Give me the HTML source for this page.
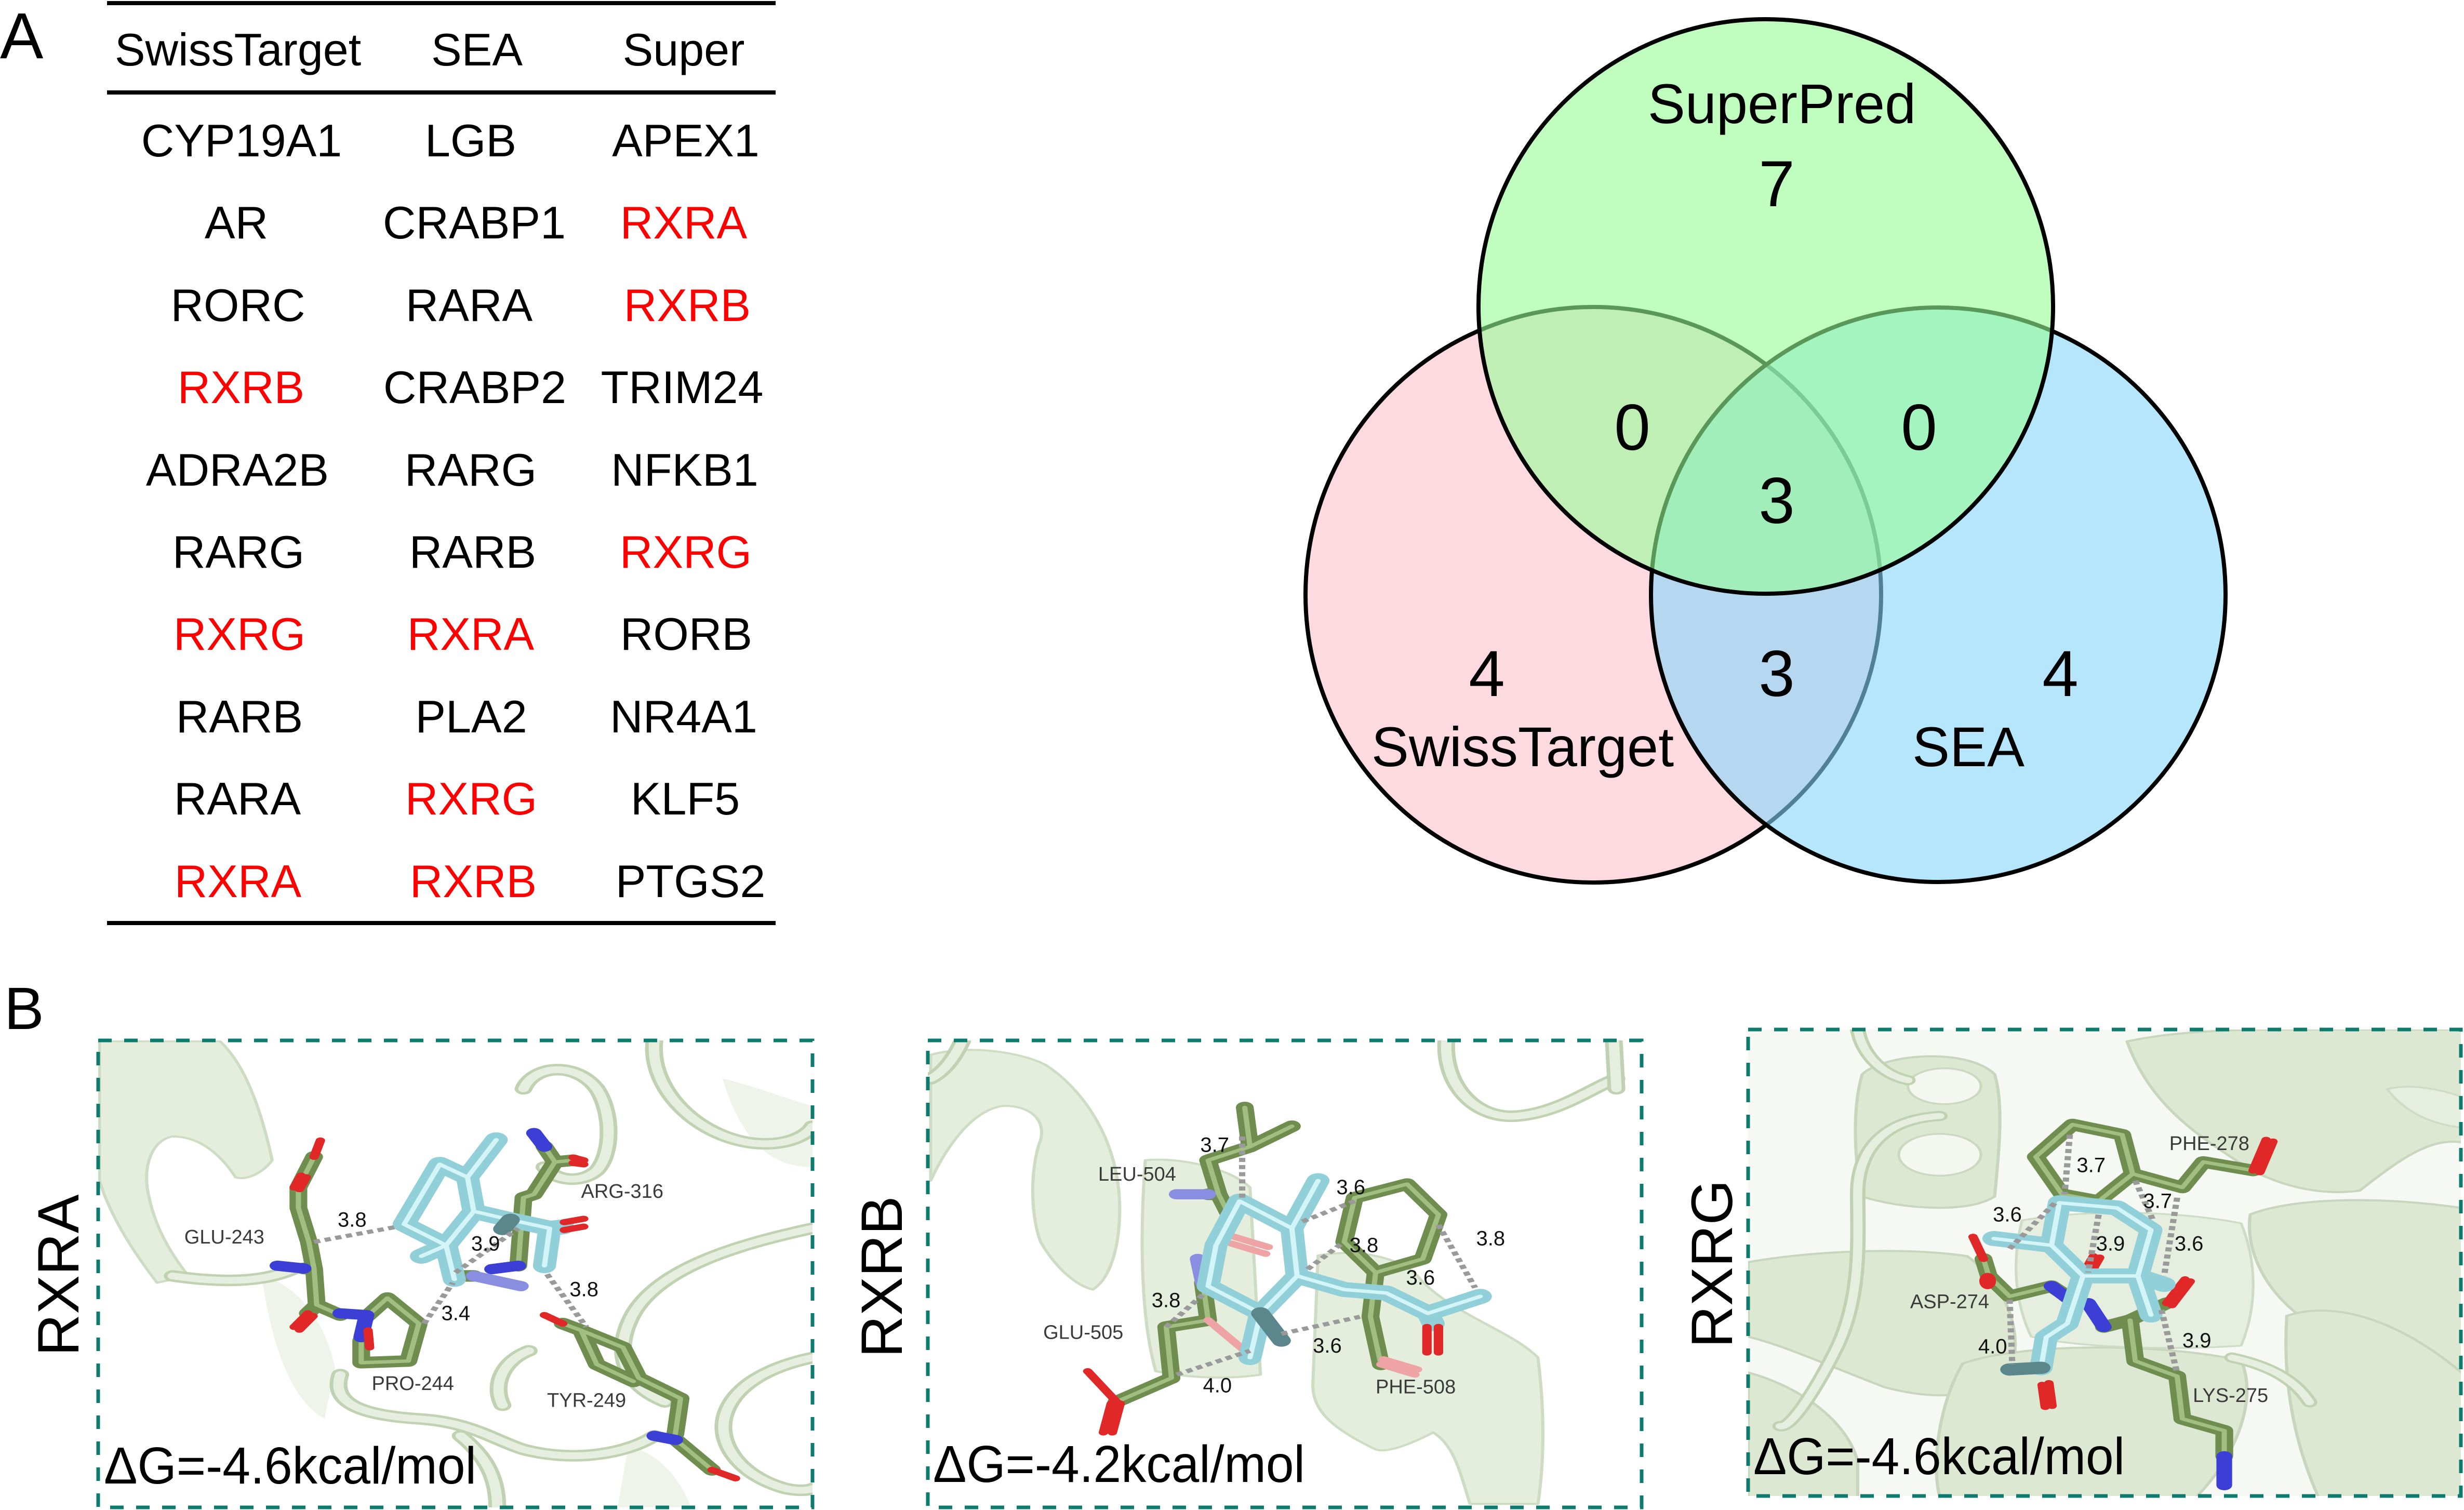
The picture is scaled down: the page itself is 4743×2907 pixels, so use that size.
<!DOCTYPE html>
<html><head><meta charset="utf-8"><style>
html,body{margin:0;padding:0;background:#fff}
svg{display:block}
.t{font-family:"Liberation Sans",Arial,sans-serif}
path{fill:none;stroke-linecap:round;stroke-linejoin:round}
.fl{fill:#e5eedd;stroke:#cddcc3;stroke-width:6px}
.fl2{fill:#eef4ea;stroke:none}
.hx{fill:#dde8d3;stroke:#c7d6bc;stroke-width:7px}
.hx2{fill:#e6eee0;stroke:#cfdcc5;stroke-width:6px}
.to{stroke:#c0d2b2;stroke-width:34px}
.ti{stroke:#e6eedf;stroke-width:20px}
.gO{stroke:#6e8d4f;stroke-width:34px}
.gH{stroke:#a0bf80;stroke-width:10px}
.cO{stroke:#92d0d9;stroke-width:44px}
.cH{stroke:#d3f5f8;stroke-width:10px}
.ox{stroke:#e02828;stroke-width:18px}
.oxf{stroke:#eea4a4;stroke-width:18px}
.ni{stroke:#3b3fd6;stroke-width:30px}
.nif{stroke:#8a8ee0;stroke-width:30px}
.dk{stroke:#5b868c;stroke-width:36px}
.ds{stroke:#9a9a9a;stroke-width:12px;stroke-dasharray:12 9;stroke-linecap:butt}
.lab{font-family:"Liberation Sans","DejaVu Sans",sans-serif;font-size:38px;fill:#3a3a3a}
.num{font-family:"Liberation Sans","DejaVu Sans",sans-serif;font-size:40px;fill:#111}
.box{fill:none;stroke:#0e7b6f;stroke-width:7;stroke-dasharray:26 24}
</style></head><body>
<svg width="4743" height="2907" viewBox="0 0 4743 2907" xmlns="http://www.w3.org/2000/svg">
<rect x="0" y="0" width="4743" height="2907" fill="#fff"/>
<defs>
<clipPath id="cp1"><rect x="189" y="2003" width="1375" height="899"/></clipPath>
<clipPath id="cp2"><rect x="1786" y="2003" width="1374" height="899"/></clipPath>
<clipPath id="cp3"><rect x="3365" y="1982" width="1372" height="898"/></clipPath>
</defs>

<!-- ===== Panel A: table ===== -->
<text class="t" x="0" y="112" font-size="125">A</text>
<line x1="206" y1="6" x2="1493" y2="6" stroke="#000" stroke-width="8"/>
<line x1="206" y1="178" x2="1493" y2="178" stroke="#000" stroke-width="8"/>
<line x1="206" y1="1777" x2="1493" y2="1777" stroke="#000" stroke-width="8"/>
<g class="t" font-size="88" text-anchor="middle">
<text x="458" y="126">SwissTarget</text><text x="918" y="126">SEA</text><text x="1316" y="126">Super</text>
<text x="465" y="301">CYP19A1</text><text x="906" y="301">LGB</text><text x="1320" y="301">APEX1</text>
<text x="455" y="459">AR</text><text x="913" y="459">CRABP1</text><text x="1316" y="459" fill="#f00">RXRA</text>
<text x="458" y="618">RORC</text><text x="903" y="618">RARA</text><text x="1323" y="618" fill="#f00">RXRB</text>
<text x="464" y="776" fill="#f00">RXRB</text><text x="914" y="776">CRABP2</text><text x="1313" y="776">TRIM24</text>
<text x="457" y="935">ADRA2B</text><text x="906" y="935">RARG</text><text x="1318" y="935">NFKB1</text>
<text x="459" y="1093">RARG</text><text x="910" y="1093">RARB</text><text x="1320" y="1093" fill="#f00">RXRG</text>
<text x="461" y="1251" fill="#f00">RXRG</text><text x="906" y="1251" fill="#f00">RXRA</text><text x="1321" y="1251">RORB</text>
<text x="461" y="1410">RARB</text><text x="907" y="1410">PLA2</text><text x="1316" y="1410">NR4A1</text>
<text x="457" y="1568">RARA</text><text x="907" y="1568" fill="#f00">RXRG</text><text x="1319" y="1568">KLF5</text>
<text x="458" y="1727" fill="#f00">RXRA</text><text x="911" y="1727" fill="#f00">RXRB</text><text x="1329" y="1727">PTGS2</text>
</g>

<!-- ===== Venn ===== -->
<circle cx="3067" cy="1145" r="554" fill="#fddae0" stroke="#000" stroke-width="8"/>
<circle cx="3731" cy="1145" r="553" fill="rgb(133,213,250)" fill-opacity="0.6" stroke="#000" stroke-width="8"/>
<circle cx="3399" cy="590" r="553" fill="rgb(150,253,150)" fill-opacity="0.6" stroke="#000" stroke-width="8"/>
<g class="t" text-anchor="middle">
<text x="3430" y="237" font-size="108">SuperPred</text>
<text x="3420" y="397" font-size="125">7</text>
<text x="3142" y="866" font-size="125">0</text>
<text x="3694" y="866" font-size="125">0</text>
<text x="3420" y="1007" font-size="125">3</text>
<text x="3420" y="1340" font-size="125">3</text>
<text x="2862" y="1340" font-size="125">4</text>
<text x="3966" y="1340" font-size="125">4</text>
<text x="2931" y="1475" font-size="108">SwissTarget</text>
<text x="3789" y="1475" font-size="108">SEA</text>
</g>

<!-- ===== Panel B labels ===== -->
<text class="t" x="8" y="1981" font-size="115">B</text>
<text class="t" font-size="112" text-anchor="middle" transform="translate(151,2455) rotate(-90)">RXRA</text>
<text class="t" font-size="112" text-anchor="middle" transform="translate(1736,2458) rotate(-90)">RXRB</text>
<text class="t" font-size="112" text-anchor="middle" transform="translate(3334,2433) rotate(-90)">RXRG</text>

<!-- ===== Panel 1 RXRA ===== -->
<g clip-path="url(#cp1)">
<g transform="translate(0,1880) scale(1.0077,0.655)">
<path class="fl" d="M190,190 L420,190 C470,260 500,400 520,540 C500,580 470,600 450,590 C420,520 380,470 330,470 C290,480 270,560 285,650 C300,760 340,840 360,880 L300,900 C250,800 210,700 190,600 Z"/>
<path class="fl2" d="M500,880 C560,900 620,1000 640,1150 L620,1300 C560,1250 520,1100 500,880 Z"/>
<path class="fl2" d="M1200,1380 C1260,1400 1300,1480 1320,1560 L1180,1560 Z"/>
<path class="fl2" d="M1380,300 C1440,320 1500,360 1552,380 L1552,560 C1480,560 1420,500 1380,300 Z"/>
<path class="to" d="M1000,330 C1020,260 1100,250 1140,330 C1170,400 1170,520 1140,570 C1110,610 1060,600 1040,560"/>
<path class="ti" d="M1000,330 C1020,260 1100,250 1140,330 C1170,400 1170,520 1140,570 C1110,610 1060,600 1040,560"/>
<path class="to" d="M1250,190 C1240,330 1330,470 1440,490 C1510,500 1545,460 1552,440"/>
<path class="ti" d="M1250,190 C1240,330 1330,470 1440,490 C1510,500 1545,460 1552,440"/>
<path class="to" d="M330,880 C420,900 500,900 560,860"/>
<path class="ti" d="M330,880 C420,900 500,900 560,860"/>
<path class="to" d="M650,1170 C630,1260 700,1290 800,1300 C900,1310 940,1360 1000,1390 C1100,1430 1200,1400 1250,1350"/>
<path class="ti" d="M650,1170 C630,1260 700,1290 800,1300 C900,1310 940,1360 1000,1390 C1100,1430 1200,1400 1250,1350"/>
<path class="to" d="M1552,740 C1400,790 1260,860 1210,990 C1170,1100 1190,1200 1270,1250"/>
<path class="ti" d="M1552,740 C1400,790 1260,860 1210,990 C1170,1100 1190,1200 1270,1250"/>
<path class="to" d="M1552,1120 C1460,1150 1400,1210 1385,1290 C1370,1370 1410,1460 1490,1500 C1520,1515 1545,1510 1552,1505"/>
<path class="ti" d="M1552,1120 C1460,1150 1400,1210 1385,1290 C1370,1370 1410,1460 1490,1500 C1520,1515 1545,1510 1552,1505"/>
<path class="to" d="M880,1350 C920,1400 950,1460 950,1560"/>
<path class="ti" d="M880,1350 C920,1400 950,1460 950,1560"/>
<path class="to" d="M1010,1100 C960,1130 940,1200 960,1260"/>
<path class="ti" d="M1010,1100 C960,1130 940,1200 960,1260"/>
<g class="gO">
<path d="M600,530 L590,560 L570,620 L570,680 L590,780 L600,860 L605,965 L650,995"/>
<path d="M580,858 L600,860"/><path d="M605,965 L588,990"/>
<path d="M700,1000 L740,945 L800,1020 L780,1130 L690,1135 L690,1070"/>
<path d="M1040,500 L1060,545 L1095,540"/>
<path d="M1060,545 L1020,640 L1000,650 L990,850"/>
<path d="M880,880 L905,880"/>
<path d="M1075,1020 L1110,1040 L1190,1090 L1220,1180 L1300,1240 L1290,1345"/>
<path d="M1110,1040 L1140,1140 L1210,1190"/>
<path d="M1290,1360 L1360,1450"/>
</g>
<g class="gH">
<path d="M600,530 L590,560 L570,620 L570,680 L590,780 L600,860 L605,965 L650,995"/>
<path d="M700,1000 L740,945 L800,1020 L780,1130 L690,1135 L690,1070"/>
<path d="M1040,500 L1060,545 L1095,540"/>
<path d="M1060,545 L1020,640 L1000,650 L990,850"/>
<path d="M1075,1020 L1110,1040 L1190,1090 L1220,1180 L1300,1240 L1290,1345"/>
<path d="M1110,1040 L1140,1140 L1210,1190"/>
<path d="M1290,1360 L1360,1450"/>
</g>
<path class="ox" d="M612,482 L600,530"/>
<path class="ox" d="M575,585 L562,620"/><path class="ox" d="M585,590 L572,625"/>
<path class="ni" d="M530,850 L580,858"/>
<path class="ox" d="M588,990 L562,1030"/><path class="ox" d="M598,998 L572,1038"/>
<path class="ni" d="M650,990 L700,995 L690,1060"/>
<path class="ox" d="M703,1040 L706,1090"/>
<path class="ni" d="M1020,460 L1040,500"/>
<path class="ox" d="M1095,532 L1115,540"/><path class="ox" d="M1095,548 L1115,552"/>
<path class="ni" d="M990,850 L940,860"/>
<path class="nif" d="M905,880 L995,910"/>
<path class="ox" d="M1040,995 L1075,1020"/>
<path class="ni" d="M1250,1350 L1290,1362"/>
<path class="ox" d="M1360,1450 L1405,1475"/>
<g class="cO">
<path d="M948,480 L893,590 L905,690 L852,790 L772,728 L840,552 L893,590"/>
<path d="M905,690 L975,715 L1050,740 L1040,850"/>
<path d="M1050,740 L1075,736"/>
<path d="M852,790 L805,822"/>
<path d="M852,790 L868,890"/>
</g>
<g class="cH">
<path d="M948,480 L893,590 L905,690 L852,790 L772,728 L840,552 L893,590"/>
<path d="M905,690 L975,715 L1050,740 L1040,850"/>
<path d="M852,790 L805,822"/>
<path d="M852,790 L868,890"/>
</g>
<path class="dk" d="M975,715 L960,742"/>
<path class="ox" d="M1078,722 L1115,712"/><path class="ox" d="M1078,745 L1115,735"/>
<path class="ds" d="M600,780 L760,735"/>
<path class="ds" d="M870,870 L990,740"/>
<path class="ds" d="M810,1020 L865,900"/>
<path class="ds" d="M1045,875 L1120,1030"/>
<text class="num" transform="translate(645,735) scale(0.9924,1.5267)">3.8</text>
<text class="lab" transform="translate(352,785) scale(0.9924,1.5267)">GLU-243</text>
<text class="lab" transform="translate(1110,650) scale(0.9924,1.5267)">ARG-316</text>
<text class="num" transform="translate(900,805) scale(0.9924,1.5267)">3.9</text>
<text class="num" transform="translate(843,1010) scale(0.9924,1.5267)">3.4</text>
<text class="num" transform="translate(1088,940) scale(0.9924,1.5267)">3.8</text>
<text class="lab" transform="translate(710,1215) scale(0.9924,1.5267)">PRO-244</text>
<text class="lab" transform="translate(1045,1265) scale(0.9924,1.5267)">TYR-249</text>
</g></g>
<text class="t" x="200" y="2856" font-size="100" textLength="717" lengthAdjust="spacingAndGlyphs">ΔG=-4.6kcal/mol</text>
<rect class="box" x="189" y="2003" width="1375" height="899"/>

<!-- ===== Panel 2 RXRB ===== -->
<g clip-path="url(#cp2)">
<g transform="translate(1600,1880) scale(1.0077,0.655)">
<path class="fl" d="M190,230 C260,200 360,220 410,260 C470,320 540,450 550,640 C555,760 540,880 500,920 C470,910 430,860 400,780 C380,700 380,560 400,480 C410,420 380,380 330,380 C270,390 220,500 190,600 Z"/>
<path class="fl" d="M600,540 C660,530 760,560 800,620 L820,1170 C760,1185 680,1180 620,1160 C590,1000 590,750 600,540 Z"/>
<path class="fl" d="M930,820 C1000,800 1080,820 1120,880 C1180,990 1300,1040 1350,1120 C1365,1300 1360,1450 1350,1550 L1220,1550 C1200,1450 1190,1380 1150,1340 C1100,1380 1060,1400 1040,1390 C960,1330 920,1280 920,1200 Z"/>
<path class="to" d="M1175,190 C1170,320 1230,420 1310,410 C1390,400 1450,330 1500,300"/>
<path class="ti" d="M1175,190 C1170,320 1230,420 1310,410 C1390,400 1450,330 1500,300"/>
<path class="to" d="M1495,190 L1500,330"/><path class="ti" d="M1495,190 L1500,330"/>
<path class="to" d="M250,190 C235,240 215,280 190,300"/><path class="ti" d="M250,190 C235,240 215,280 190,300"/>
<g class="gO">
<path d="M790,385 L800,500 L720,540 L740,640 L760,700"/>
<path d="M800,500 L880,440"/>
<path d="M720,640 L740,640"/>
<path d="M710,900 L720,1010 L640,1030 L650,1180 L545,1250"/>
<path d="M1000,650 L1100,610 L1160,700 L1130,830 L1040,870 L980,780 Z"/>
<path d="M1040,870 L1030,1000 L1050,1140"/>
</g>
<g class="gH">
<path d="M790,385 L800,500 L720,540 L740,640 L760,700"/>
<path d="M800,500 L880,440"/>
<path d="M710,900 L720,1010 L640,1030 L650,1180 L545,1250"/>
<path d="M1000,650 L1100,610 L1160,700 L1130,830 L1040,870 L980,780 Z"/>
<path d="M1040,870 L1030,1000 L1050,1140"/>
</g>
<path class="nif" d="M660,640 L720,640"/>
<path class="oxf" d="M770,765 L835,795"/><path class="oxf" d="M765,785 L830,815"/>
<path class="nif" d="M700,830 L710,900"/>
<path class="ox" d="M545,1250 L490,1160"/>
<path class="ox" d="M535,1255 L520,1340"/><path class="ox" d="M552,1255 L537,1340"/>
<path class="oxf" d="M720,1010 L790,1100"/>
<path class="oxf" d="M1050,1140 L1115,1170"/><path class="oxf" d="M1055,1125 L1120,1155"/>
<g class="cO">
<path d="M930,600 L880,740"/>
<path d="M780,660 L880,740 L890,880 L820,990 L720,910 L735,790 L780,660"/>
<path d="M890,880 L980,920 L1060,930 L1140,990 L1240,940"/>
<path d="M1140,990 L1150,1020"/>
<path d="M820,990 L800,1120"/>
</g>
<g class="cH">
<path d="M930,600 L880,740"/>
<path d="M780,660 L880,740 L890,880 L820,990 L720,910 L735,790 L780,660"/>
<path d="M890,880 L980,920 L1060,930 L1140,990 L1240,940"/>
<path d="M820,990 L800,1120"/>
</g>
<path class="ox" d="M1138,1030 L1138,1105"/><path class="ox" d="M1160,1030 L1160,1105"/>
<path class="dk" d="M820,990 L860,1070"/>
<path class="ds" d="M785,470 L785,650"/>
<path class="ds" d="M900,720 L1000,660"/>
<path class="ds" d="M910,860 L975,785"/>
<path class="ds" d="M1160,730 L1230,915"/>
<path class="ds" d="M640,1030 L710,935"/>
<path class="ds" d="M660,1170 L800,1100"/>
<path class="ds" d="M860,1050 L1010,1000"/>
<text class="num" transform="translate(705,515) scale(0.9924,1.5267)">3.7</text>
<text class="lab" fill="#555" transform="translate(510,600) scale(0.9924,1.5267)">LEU-504</text>
<text class="num" transform="translate(965,640) scale(0.9924,1.5267)">3.6</text>
<text class="num" transform="translate(990,810) scale(0.9924,1.5267)">3.8</text>
<text class="num" transform="translate(1232,790) scale(0.9924,1.5267)">3.8</text>
<text class="num" transform="translate(1098,905) scale(0.9924,1.5267)">3.6</text>
<text class="num" transform="translate(612,972) scale(0.9924,1.5267)">3.8</text>
<text class="lab" transform="translate(405,1065) scale(0.9924,1.5267)">GLU-505</text>
<text class="num" transform="translate(920,1105) scale(0.9924,1.5267)">3.6</text>
<text class="num" transform="translate(710,1222) scale(0.9924,1.5267)">4.0</text>
<text class="lab" fill="#555" transform="translate(1040,1225) scale(0.9924,1.5267)">PHE-508</text>
</g></g>
<text class="t" x="1796" y="2853" font-size="100" textLength="716" lengthAdjust="spacingAndGlyphs">ΔG=-4.2kcal/mol</text>
<rect class="box" x="1786" y="2003" width="1374" height="899"/>

<!-- ===== Panel 3 RXRG ===== -->
<g clip-path="url(#cp3)">
<rect x="3365" y="1982" width="1372" height="898" fill="#f6f9f3"/>
<g transform="translate(3365,1982) scale(0.8787,0.5741)">
<path class="hx" d="M830,40 C950,0 1100,0 1200,0 L1570,0 L1570,380 C1500,360 1440,420 1340,540 C1250,560 1150,520 1080,450 C980,350 880,250 830,40 Z"/>
<path class="hx" d="M1100,620 C1200,560 1400,560 1570,600 L1570,1150 C1450,1120 1300,1020 1200,950 C1120,850 1090,720 1100,620 Z"/>
<path class="hx" d="M1180,960 C1300,900 1450,1000 1570,1160 L1570,1570 L1250,1570 C1200,1400 1170,1200 1180,960 Z"/>
<path class="hx" d="M0,780 C150,740 350,730 480,760 C560,850 600,1000 580,1120 C520,1250 400,1240 300,1200 C180,1130 80,1060 0,1030 Z"/>
<path class="hx" d="M470,1120 C600,1050 900,1050 1080,1110 C1120,1250 1060,1450 980,1570 L420,1570 C400,1450 420,1250 470,1120 Z"/>
<path class="hx2" d="M600,640 C750,600 950,610 1080,650 C1120,800 1110,950 1080,1060 C900,1080 700,1060 620,1030 C580,900 580,760 600,640 Z"/>
<path class="hx" d="M0,1150 C120,1200 220,1320 240,1450 L240,1570 L0,1570 Z"/>
<path class="hx" d="M250,150 C300,80 480,60 540,150 C560,250 550,400 540,560 C480,620 330,600 250,560 C230,420 230,250 250,150 Z"/>
<ellipse cx="430" cy="190" rx="80" ry="60" fill="#f3f7f0" stroke="#cbd9c0" stroke-width="6"/>
<ellipse cx="420" cy="420" rx="90" ry="70" fill="#f3f7f0" stroke="#cbd9c0" stroke-width="6"/>
<path class="hx2" d="M1400,200 C1450,180 1520,200 1570,230 L1570,330 C1500,320 1440,280 1400,200 Z"/>
<path class="to" d="M240,0 C250,80 290,150 350,170"/><path class="ti" d="M240,0 C250,80 290,150 350,170"/>
<path class="to" d="M420,290 C300,300 240,400 240,550 C240,700 250,900 190,1080 C140,1230 90,1340 70,1330"/>
<path class="ti" d="M420,290 C300,300 240,400 240,550 C240,700 250,900 190,1080 C140,1230 90,1340 70,1330"/>
<path class="to" d="M1060,1100 C1150,1130 1200,1180 1230,1250"/><path class="ti" d="M1060,1100 C1150,1130 1200,1180 1230,1250"/>
</g>
<g transform="translate(3163,1880) scale(1.0077,0.655)">
<g class="gO">
<path d="M820,435 L915,465 L935,580 L870,660 L800,640 L750,530 Z"/>
<path d="M935,580 L1030,620 L1070,545 L1165,570"/>
<path d="M650,830 L660,880 L700,940 L780,910 L810,940"/>
<path d="M880,1030 L930,1010 L1000,960"/>
<path d="M930,1010 L940,1130 L1020,1175 L1030,1300 L1110,1335 L1110,1410"/>
</g>
<g class="gH">
<path d="M820,435 L915,465 L935,580 L870,660 L800,640 L750,530 Z"/>
<path d="M935,580 L1030,620 L1070,545 L1165,570"/>
<path d="M650,830 L660,880 L700,940 L780,910"/>
<path d="M930,1010 L940,1130 L1020,1175 L1030,1300 L1110,1335 L1110,1410"/>
</g>
<path class="ox" d="M1165,570 L1190,480"/><path class="ox" d="M1178,575 L1203,485"/>
<path class="ox" d="M630,765 L650,830"/>
<ellipse cx="658" cy="895" rx="16" ry="24" fill="#e02828"/>
<path class="ni" d="M780,910 L810,945"/>
<path class="ox" d="M845,862 L860,822"/><path class="ox" d="M857,866 L872,826"/>
<path class="ni" d="M850,960 L880,1030"/>
<path class="ox" d="M1000,960 L1035,890"/><path class="ox" d="M1010,966 L1045,896"/>
<path class="ni" d="M1110,1410 L1110,1495"/>
<g class="cO">
<path d="M795,665 L905,680 L970,745 L945,880 L840,880 L780,790 Z"/>
<path d="M780,790 L670,770"/>
<path d="M840,880 L810,1020 L770,1060 L760,1150"/>
<path d="M945,880 L970,995"/>
<path d="M945,880 L995,905"/>
</g>
<g class="cH">
<path d="M795,665 L905,680 L970,745 L945,880 L840,880 L780,790 Z"/>
<path d="M780,790 L670,770"/>
<path d="M840,880 L810,1020 L770,1060 L760,1150"/>
<path d="M945,880 L970,995"/>
</g>
<path class="dk" d="M760,1150 L700,1155"/>
<path class="ox" d="M762,1200 L768,1265"/><path class="ox" d="M775,1195 L781,1262"/>
<path class="ds" d="M815,465 L805,640"/>
<path class="ds" d="M700,800 L790,660"/>
<path class="ds" d="M870,700 L850,870"/>
<path class="ds" d="M940,600 L975,720"/>
<path class="ds" d="M1020,650 L995,880"/>
<path class="ds" d="M700,950 L705,1140"/>
<path class="ds" d="M990,980 L1020,1165"/>
<text class="lab" fill="#222" transform="translate(1005,510) scale(0.9924,1.5267)">PHE-278</text>
<text class="num" transform="translate(828,575) scale(0.9924,1.5267)">3.7</text>
<text class="num" transform="translate(955,680) scale(0.9924,1.5267)">3.7</text>
<text class="num" transform="translate(668,720) scale(0.9924,1.5267)">3.6</text>
<text class="num" transform="translate(865,805) scale(0.9924,1.5267)">3.9</text>
<text class="num" transform="translate(1015,805) scale(0.9924,1.5267)">3.6</text>
<text class="lab" transform="translate(510,975) scale(0.9924,1.5267)">ASP-274</text>
<text class="num" transform="translate(640,1108) scale(0.9924,1.5267)">4.0</text>
<text class="num" transform="translate(1030,1090) scale(0.9924,1.5267)">3.9</text>
<text class="lab" fill="#222" transform="translate(1050,1250) scale(0.9924,1.5267)">LYS-275</text>
</g></g>
<text class="t" x="3375" y="2838" font-size="100" textLength="715" lengthAdjust="spacingAndGlyphs">ΔG=-4.6kcal/mol</text>
<rect class="box" x="3365" y="1982" width="1372" height="898"/>
</svg>
</body></html>
